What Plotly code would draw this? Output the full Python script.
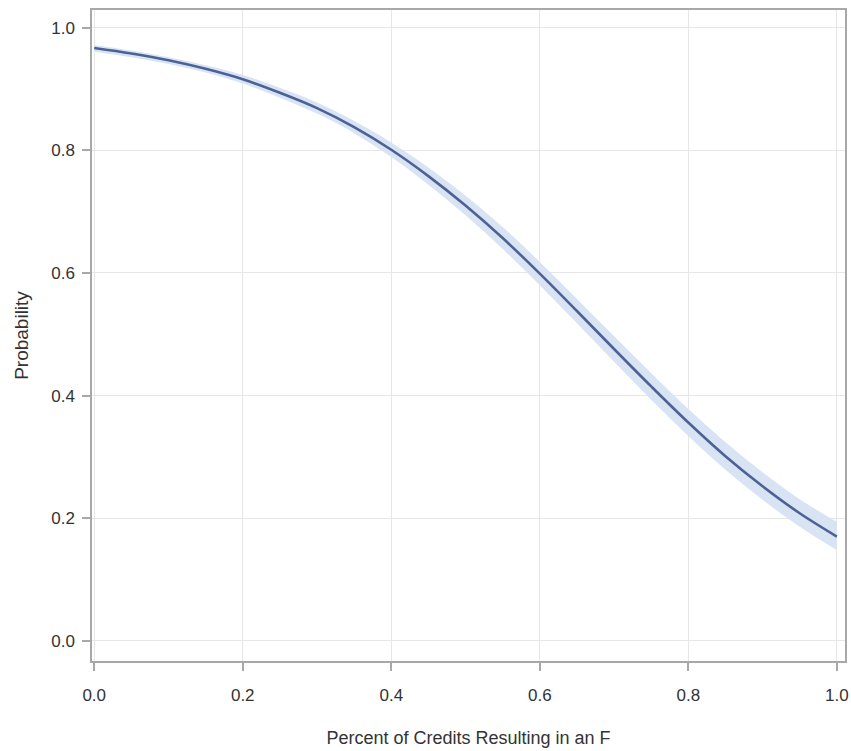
import plotly.graph_objects as go

x_vals = [0.00, 0.05, 0.10, 0.15, 0.20, 0.25, 0.30, 0.35, 0.40, 0.45, 0.50,
          0.55, 0.60, 0.65, 0.70, 0.75, 0.80, 0.85, 0.90, 0.95, 1.00]
prob = [0.967, 0.958, 0.947, 0.933, 0.916, 0.894, 0.869, 0.838, 0.801, 0.758, 0.710,
        0.657, 0.599, 0.538, 0.476, 0.415, 0.356, 0.301, 0.252, 0.208, 0.170]
upper = [0.972, 0.963, 0.952, 0.939, 0.923, 0.902, 0.878, 0.848, 0.813, 0.772, 0.726,
         0.675, 0.618, 0.558, 0.497, 0.437, 0.378, 0.324, 0.275, 0.231, 0.194]
lower = [0.961, 0.952, 0.941, 0.927, 0.909, 0.886, 0.860, 0.828, 0.789, 0.744, 0.694,
         0.639, 0.580, 0.518, 0.455, 0.393, 0.334, 0.279, 0.230, 0.186, 0.148]
x_ticks = [0.0, 0.2, 0.4, 0.6, 0.8, 1.0]
y_ticks = [0.0, 0.2, 0.4, 0.6, 0.8, 1.0]

band_color = "rgb(216,228,243)"
line_color = "rgb(76,98,150)"

fig = go.Figure()
fig.add_trace(go.Scatter(x=x_vals, y=upper, mode="lines", line=dict(width=0, shape="spline"),
                         showlegend=False, hoverinfo="skip"))
fig.add_trace(go.Scatter(x=x_vals, y=lower, mode="lines", line=dict(width=0, shape="spline"),
                         fill="tonexty", fillcolor=band_color, showlegend=False, hoverinfo="skip"))
fig.add_trace(go.Scatter(x=x_vals, y=prob, mode="lines",
                         line=dict(color=line_color, width=2.6, shape="spline"), showlegend=False))

font_family = "Liberation Sans, Arial, sans-serif"
axis_common = dict(showgrid=True, gridcolor="#E6E6E6", gridwidth=1,
                   showline=True, linecolor="#A8A8A8", linewidth=1.5, mirror=True,
                   ticks="outside", ticklen=8, tickcolor="#A8A8A8", tickwidth=1.5,
                   zeroline=False, automargin=False,
                   tickfont=dict(family=font_family, size=17, color="#333333"))

fig.update_layout(
    width=851, height=751,
    margin=dict(l=92, r=6, t=10, b=90),
    plot_bgcolor="white", paper_bgcolor="white",
    xaxis=dict(range=[-0.003, 1.011], tickvals=x_ticks, ticktext=[f"{v:.1f}" for v in x_ticks],
               ticklabelstandoff=10,
               title=dict(text="Percent of Credits Resulting in an F",
                          font=dict(family=font_family, size=18, color="#333333"), standoff=27),
               **axis_common),
    yaxis=dict(range=[-0.033, 1.029], tickvals=y_ticks, ticktext=[f"{v:.1f}" for v in y_ticks],
               ticklabelstandoff=4,
               title=dict(text="Probability",
                          font=dict(family=font_family, size=19, color="#333333"),
                          standoff=18),
               **axis_common),
)

fig.write_html("out.html",
               config={"displayModeBar": False},
               post_script="document.body.style.margin='0px';document.body.style.overflow='hidden';")
